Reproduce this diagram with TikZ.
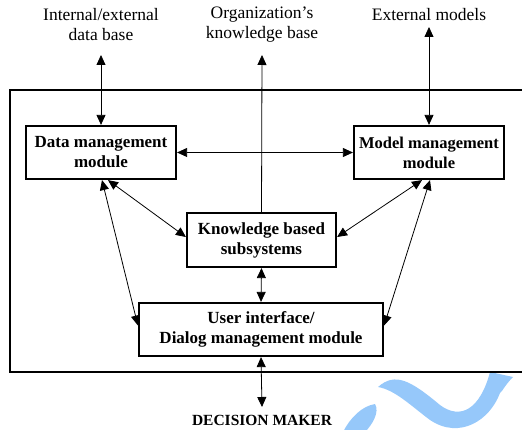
\documentclass[tikz,border=0pt]{standalone}
\usepackage{fontspec}
\setmainfont{Liberation Serif}
\usetikzlibrary{arrows.meta}
\definecolor{wm}{RGB}{150,200,250}
\begin{document}
\begin{tikzpicture}[x=1pt,y=-1pt,
 box/.style={draw,line width=2.2pt,inner sep=0pt,font=\bfseries\fontsize{17}{20}\selectfont,align=center},
 lbl/.style={font=\fontsize{17.5}{20}\selectfont,align=center,inner sep=0pt},
 arr/.style={{Triangle[length=10pt,width=9pt]}-{Triangle[length=10pt,width=9pt]},line width=0.8pt}]
\useasboundingbox (0,0) rectangle (522,430);
% watermark
\fill[wm] (378,387) .. controls (395,372) and (410,380) .. (440,405)
  .. controls (460,420) and (480,410) .. (490,372) -- (513,377)
  .. controls (505,385) and (502,392) .. (500,393)
  .. controls (490,420) and (460,440) .. (430,420)
  .. controls (410,405) and (395,390) .. (378,387) -- cycle;
\fill[wm] (343,432) .. controls (350,418) and (362,406) .. (375,404)
  .. controls (380,412) and (372,425) .. (365,432) -- cycle;
% frame
\draw[line width=2.4pt] (530,90) -- (10,90) -- (10,372) -- (530,372);
% nodes
\node[lbl] (db) at (101,25) {Internal/external\\data base};
\node[lbl] (okb) at (262,25) {Organization’s\\knowledge base};
\node[lbl] (em) at (429,15) {External models};
\node[box,minimum width=150pt,minimum height=53pt] (data) at (101,152.5) {Data management\\module};
\node[box,minimum width=150pt,minimum height=53pt,font=\bfseries\fontsize{16.5}{20}\selectfont] (model) at (429,152.5) {Model management\\module};
\node[box,minimum width=149pt,minimum height=54pt] (know) at (261.5,240) {Knowledge based\\subsystems};
\node[box,minimum width=244pt,minimum height=53pt] (ui) at (261,329.5) {User interface/\\Dialog management module};
\node[font=\bfseries\fontsize{15.5}{18}\selectfont,inner sep=0pt] (dm) at (262,420) {DECISION MAKER};
\coordinate (dbp) at (101,55);
\coordinate (okbp) at (262,55);
\coordinate (emp) at (429,27);
\coordinate (dmp) at (262,407);
% connectors
\draw[arr] (dbp) -- (data.north);
\draw[{Triangle[length=10pt,width=9pt]}-,line width=0.8pt] (okbp) -- (know.north);
\draw[arr] (emp) -- (model.north);
\draw[arr] (data.east) -- (model.west);
\draw[arr] ([xshift=7pt]data.south) -- ([yshift=3pt]know.west);
\draw[arr] ([xshift=1pt]data.south) -- ([yshift=4pt]ui.west);
\draw[arr] ([xshift=-7pt]model.south) -- ([yshift=3pt]know.east);
\draw[arr] ([xshift=1pt]model.south) -- ([yshift=4pt]ui.east);
\draw[arr] (know.south) -- (ui.north);
\draw[arr] (ui.south) -- (dmp);
\end{tikzpicture}
\end{document}
